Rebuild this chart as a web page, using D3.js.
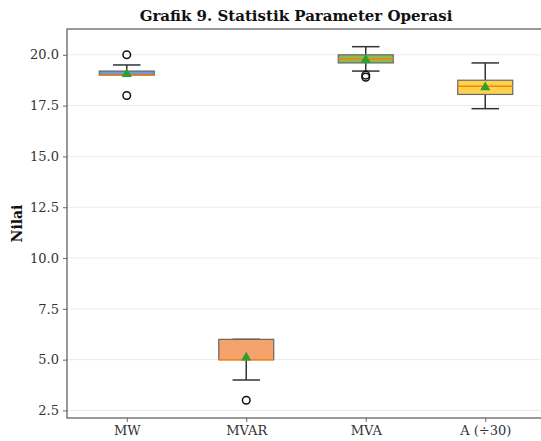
<!DOCTYPE html>
<html>
<head>
<meta charset="utf-8">
<script src="https://cdn.jsdelivr.net/npm/d3@7"></script>
<style>
  body { margin: 0; background: #fff; }
  svg { display: block; font-family: "DejaVu Serif", serif; }
</style>
</head>
<body>
<div id="chart"></div>
<script>
// Box plot data
const categories = ['MW', 'MVAR', 'MVA', 'A (÷30)'];
const whiskerLow = [19.0, 4.0, 19.2, 17.35];
const q1Values = [19.0, 5.0, 19.6, 18.05];
const medians = [19.0, 5.0, 19.8, 18.45];
const q3Values = [19.2, 6.0, 20.0, 18.75];
const whiskerHigh = [19.5, 6.0, 20.4, 19.6];
const means = [19.05, 5.1, 19.75, 18.4];
const outliers = [[20.0, 18.0], [3.0], [18.9, 19.0], []];
const boxColors = ['#6d9bd6', '#f4a36c', '#8dba55', '#fdd24e'];
const yTicks = [2.5, 5.0, 7.5, 10.0, 12.5, 15.0, 17.5, 20.0];

const width = 541, height = 441;
const margin = { top: 29, right: -4, bottom: 23, left: 67 };
const innerW = width - margin.left - margin.right;
const innerH = height - margin.top - margin.bottom;

const data = categories.map((c, i) => ({
    name: c, pos: i + 1,
    lo: whiskerLow[i], q1: q1Values[i], med: medians[i], q3: q3Values[i], hi: whiskerHigh[i],
    mean: means[i], fliers: outliers[i], color: boxColors[i]
}));

const svg = d3.select('#chart').append('svg')
    .attr('width', width)
    .attr('height', height);

const g = svg.append('g')
    .attr('transform', `translate(${margin.left},${margin.top})`);

const x = d3.scaleLinear().domain([0.5, 4.5]).range([0, innerW]);
const y = d3.scaleLinear().domain([2.13, 21.27]).range([innerH, 0]);

// grid
g.selectAll('.grid')
    .data(yTicks)
    .enter()
    .append('line')
    .attr('x1', 0).attr('x2', innerW)
    .attr('y1', d => y(d)).attr('y2', d => y(d))
    .attr('stroke', '#e6e6e6')
    .attr('stroke-width', 0.8);

// axes
const yAxis = g.append('g')
    .call(d3.axisLeft(y).tickValues(yTicks).tickFormat(d3.format('.1f')).tickSize(4).tickPadding(4));
const xAxis = g.append('g')
    .attr('transform', `translate(0,${innerH})`)
    .call(d3.axisBottom(x).tickValues([1, 2, 3, 4]).tickFormat((d, i) => categories[i]).tickSize(4).tickPadding(4));
[yAxis, xAxis].forEach(a => {
    a.select('.domain').remove();
    a.selectAll('line').attr('stroke', '#444').attr('stroke-width', 0.8);
    a.selectAll('text').style('font-family', '"DejaVu Serif", serif').style('font-size', '13px').attr('fill', '#333');
});

// spines
g.append('rect')
    .attr('x', 0).attr('y', 0)
    .attr('width', innerW).attr('height', innerH)
    .attr('fill', 'none')
    .attr('stroke', '#555')
    .attr('stroke-width', 1.2);

const bw = x(1.46) - x(1);
const capW = bw / 2;

const boxes = g.selectAll('.box')
    .data(data)
    .enter()
    .append('g');

// whiskers
boxes.append('line')
    .attr('x1', d => x(d.pos)).attr('x2', d => x(d.pos))
    .attr('y1', d => y(d.hi)).attr('y2', d => y(d.q3))
    .attr('stroke', '#333').attr('stroke-width', 1.5);
boxes.append('line')
    .attr('x1', d => x(d.pos)).attr('x2', d => x(d.pos))
    .attr('y1', d => y(d.q1)).attr('y2', d => y(d.lo))
    .attr('stroke', '#333').attr('stroke-width', 1.5);
boxes.append('line')
    .attr('x1', d => x(d.pos) - capW / 2).attr('x2', d => x(d.pos) + capW / 2)
    .attr('y1', d => y(d.hi)).attr('y2', d => y(d.hi))
    .attr('stroke', '#333').attr('stroke-width', 1.5);
boxes.append('line')
    .attr('x1', d => x(d.pos) - capW / 2).attr('x2', d => x(d.pos) + capW / 2)
    .attr('y1', d => y(d.lo)).attr('y2', d => y(d.lo))
    .attr('stroke', '#333').attr('stroke-width', 1.5);

// boxes
boxes.append('rect')
    .attr('x', d => x(d.pos) - bw / 2)
    .attr('y', d => y(d.q3))
    .attr('width', bw)
    .attr('height', d => Math.max(1, y(d.q1) - y(d.q3)))
    .attr('fill', d => d.color)
    .attr('stroke', '#666')
    .attr('stroke-width', 1.2);

// medians
boxes.append('line')
    .attr('x1', d => x(d.pos) - bw / 2).attr('x2', d => x(d.pos) + bw / 2)
    .attr('y1', d => y(d.med)).attr('y2', d => y(d.med))
    .attr('stroke', '#ff7f0e').attr('stroke-width', 1.5);

// outliers
boxes.selectAll('.flier')
    .data(d => d.fliers.map(v => ({ pos: d.pos, v })))
    .enter()
    .append('circle')
    .attr('cx', d => x(d.pos))
    .attr('cy', d => y(d.v))
    .attr('r', 3.8)
    .attr('fill', 'none')
    .attr('stroke', '#111')
    .attr('stroke-width', 1.5);

// means
boxes.append('path')
    .attr('d', d3.symbol().type(d3.symbolTriangle).size(45))
    .attr('transform', d => `translate(${x(d.pos)},${y(d.mean)})`)
    .attr('fill', '#2ca02c');

// title
svg.append('text')
    .attr('x', 296)
    .attr('y', 21)
    .attr('text-anchor', 'middle')
    .style('font-size', '15px')
    .style('font-weight', 'bold')
    .attr('fill', '#111')
    .text('Grafik 9. Statistik Parameter Operasi');

// y label
svg.append('text')
    .attr('transform', 'rotate(-90)')
    .attr('x', -(margin.top + innerH / 2))
    .attr('y', 22)
    .attr('text-anchor', 'middle')
    .style('font-size', '14px')
    .style('font-weight', 'bold')
    .attr('fill', '#111')
    .text('Nilai');
</script>
</body>
</html>
